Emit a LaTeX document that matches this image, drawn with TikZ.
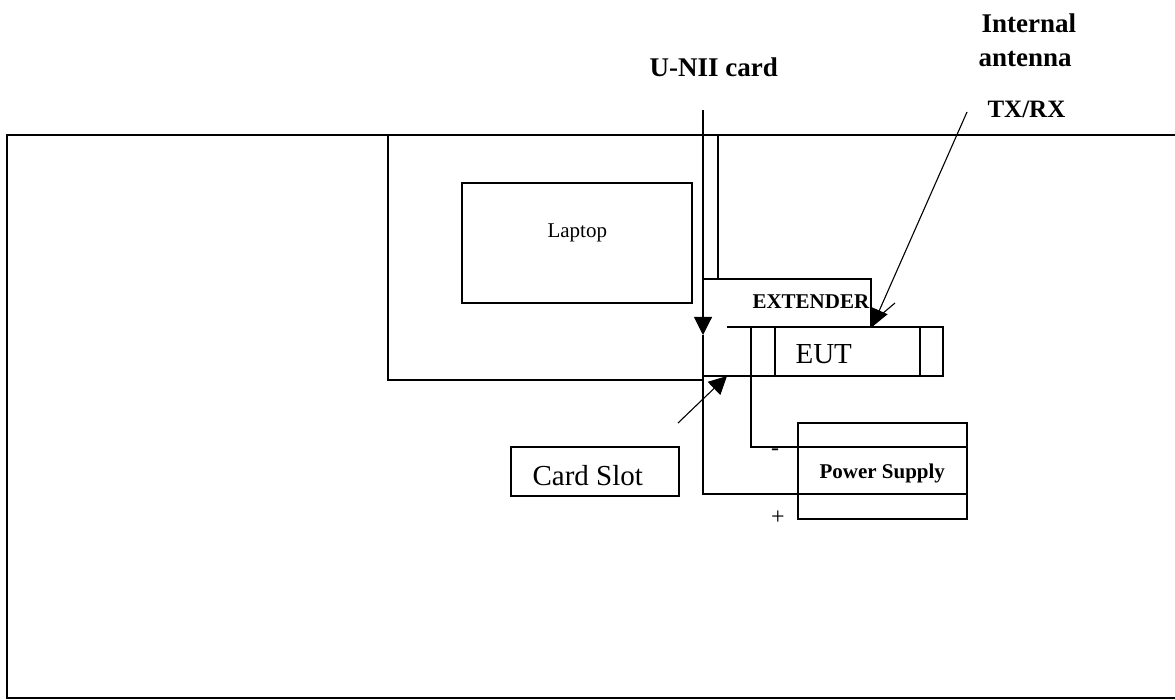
\documentclass[tikz,border=0pt]{standalone}
\usepackage{fontspec}
\setmainfont{Liberation Serif}
\usetikzlibrary{arrows.meta}
\begin{document}
\begin{tikzpicture}[x=1pt,y=-1pt,line width=1.1pt,
  lbl/.style={font=\bfseries\fontsize{27}{32}\selectfont,inner sep=0pt,anchor=base west},
  txt/.style={inner sep=0pt,anchor=base west},
  arr/.style={-{Triangle[length=18pt,width=18pt]}},
  box/.style={draw,inner sep=0pt}]
\useasboundingbox (0,0) rectangle (1175,700);

% outer frame
\draw (1175,135) -- (7,135) -- (7,698) -- (1175,698);

% laptop outline
\coordinate (lapTL) at (388,135);
\coordinate (lapBL) at (388,380);
\coordinate (lapBR) at (703,380);
\draw (lapTL) -- (lapBL) -- (lapBR);

% laptop screen
\node[box,minimum width=230pt,minimum height=120pt] (screen) at (577,243) {};
\node[txt,font=\fontsize{21}{25}\selectfont] (laptoptxt) at (547,238) {Laptop};

% labels
\node[lbl] (unii) at (649,77) {U-NII card};
\node[lbl] (intl) at (981,33) {Internal};
\node[lbl] (ante) at (978,67) {antenna};
\node[lbl,font=\bfseries\fontsize{25}{30}\selectfont] (txrx) at (987,118) {TX/RX};

% U-NII card line
\coordinate (uniitop) at (703,110);
\coordinate (uniiarr) at (703,335);
\coordinate (uniibot) at (703,494);
\coordinate (psplus) at (798,494);
\draw[arr] (uniitop) -- (uniiarr);
\draw (uniiarr) -- (uniibot) -- (psplus);

% extender
\draw (718,135) -- (718,279);
\draw (703,279) -- (871,279) -- (871,327);
\node[txt,font=\bfseries\fontsize{21}{25}\selectfont] (ext) at (752,309) {EXTENDER};

% EUT
\draw (727,327) -- (943,327) -- (943,376) -- (703,376);
\draw (775,327) -- (775,376);
\draw (920,327) -- (920,376);
\node[txt,font=\fontsize{29}{34}\selectfont] (eut) at (795,364) {EUT};

% negative wire
\coordinate (eutneg) at (751,327);
\coordinate (psneg) at (798,447);
\draw (eutneg) -- (751,447) -- (psneg);

% power supply
\node[box,minimum width=169pt,minimum height=96pt] (ps) at (882.5,471) {};
\draw (ps.west |- psneg) -- (ps.east |- psneg);
\draw (ps.west |- psplus) -- (ps.east |- psplus);
\node[txt,font=\bfseries\fontsize{21}{25}\selectfont] (pstxt) at (819,478) {Power Supply};
\node[font=\fontsize{24}{28}\selectfont,inner sep=0pt] (minus) at (775,452) {-};
\node[font=\fontsize{24}{28}\selectfont,inner sep=0pt] (plus) at (778,518) {+};

% antenna arrow
\coordinate (antstart) at (967,112);
\coordinate (anttip) at (872,327);
\draw[arr] (antstart) -- (anttip);
\draw (895,303) -- (882,314);

% card slot
\node[box,minimum width=168pt,minimum height=49pt] (slot) at (595,471.5) {};
\node[txt,font=\fontsize{29}{34}\selectfont] (slottxt) at (532,485) {Card Slot};
\coordinate (slotstart) at (678,423);
\coordinate (slottip) at (727,376);
\draw[arr] (slotstart) -- (slottip);
\end{tikzpicture}
\end{document}
